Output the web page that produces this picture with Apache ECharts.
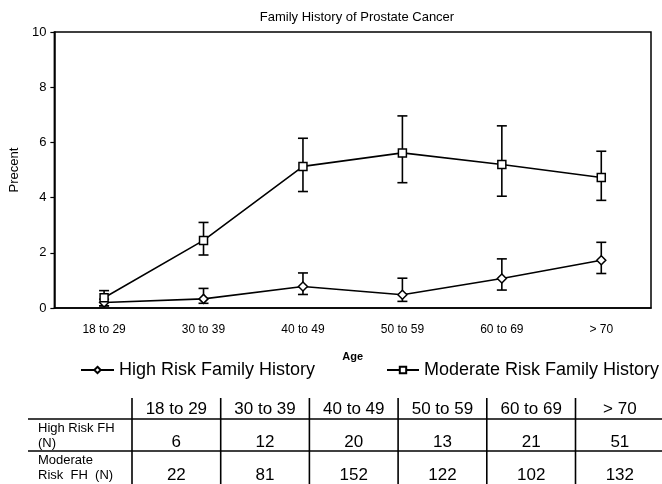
<!DOCTYPE html>
<html>
<head>
<meta charset="utf-8">
<script src="https://cdn.jsdelivr.net/npm/echarts@6/dist/echarts.min.js"></script>
<style>
html, body { margin: 0; padding: 0; background: #fff; }
#chart { width: 662px; height: 484px; }
</style>
</head>
<body>
<div id="chart"></div>
<script>
var categories = ['18 to 29', '30 to 39', '40 to 49', '50 to 59', '60 to 69', '> 70'];
var yTicks = [0, 2, 4, 6, 8, 10];

// percent values with error bar ends
var highRisk = [0.2, 0.33, 0.78, 0.48, 1.07, 1.73];
var highLow = [0.08, 0.17, 0.49, 0.24, 0.65, 1.25];
var highHigh = [0.32, 0.71, 1.27, 1.08, 1.78, 2.38];
var moderate = [0.37, 2.45, 5.13, 5.62, 5.2, 4.73];
var modLow = [0.08, 1.92, 4.22, 4.54, 4.05, 3.9];
var modHigh = [0.63, 3.1, 6.15, 6.96, 6.6, 5.68];

// counts table under the chart
var rowLabels = ['High Risk FH\n(N)', 'Moderate\nRisk  FH  (N)'];
var highN = [6, 12, 20, 13, 21, 51];
var modN = [22, 81, 152, 122, 102, 132];

var font = "'Liberation Sans', Arial, sans-serif";

function errData(lo, hi) {
	var out = [];
	for (var i = 0; i < lo.length; i++) {
		out.push([i, lo[i], hi[i]]);
	}
	return out;
}

function renderErr(params, api) {
	var top = api.coord([api.value(0), api.value(2)]);
	var bot = api.coord([api.value(0), api.value(1)]);
	var cap = 5;
	var st = { stroke: '#000', lineWidth: 1.6 };
	return {
		type: 'group',
		children: [
			{ type: 'line', shape: { x1: top[0], y1: top[1], x2: bot[0], y2: bot[1] }, style: st },
			{ type: 'line', shape: { x1: top[0] - cap, y1: top[1], x2: top[0] + cap, y2: top[1] }, style: st },
			{ type: 'line', shape: { x1: bot[0] - cap, y1: bot[1], x2: bot[0] + cap, y2: bot[1] }, style: st }
		]
	};
}

// table drawn with graphic elements
function buildTable() {
	var els = [];
	var x0 = 132, colW = 88.7, lineL = 28;
	var yHead = 409, yL1 = 419, yR1 = 442, yL2 = 451, yR2 = 475;
	var lineSt = { stroke: '#000', lineWidth: 1.6 };
	els.push({ type: 'line', shape: { x1: lineL, y1: yL1, x2: 662, y2: yL1 }, style: lineSt });
	els.push({ type: 'line', shape: { x1: lineL, y1: yL2, x2: 662, y2: yL2 }, style: lineSt });
	for (var i = 0; i < categories.length; i++) {
		var xl = x0 + i * colW;
		els.push({ type: 'line', shape: { x1: xl, y1: 398, x2: xl, y2: 484 }, style: lineSt });
		var cx = xl + colW / 2;
		els.push({ type: 'text', x: cx, y: yHead, style: { text: categories[i], fill: '#000', font: '17px ' + font, align: 'center', verticalAlign: 'middle' } });
		els.push({ type: 'text', x: cx, y: yR1, style: { text: String(highN[i]), fill: '#000', font: '17px ' + font, align: 'center', verticalAlign: 'middle' } });
		els.push({ type: 'text', x: cx, y: yR2, style: { text: String(modN[i]), fill: '#000', font: '17px ' + font, align: 'center', verticalAlign: 'middle' } });
	}
	els.push({ type: 'text', x: 38, y: (yL1 + yL2) / 2 + 1, style: { text: rowLabels[0], fill: '#000', font: '13px ' + font, lineHeight: 15, align: 'left', verticalAlign: 'middle' } });
	els.push({ type: 'text', x: 38, y: yL2 + 17, style: { text: rowLabels[1], fill: '#000', font: '13px ' + font, lineHeight: 15, align: 'left', verticalAlign: 'middle' } });
	return els;
}

var option = {
	backgroundColor: '#fff',
	animation: false,
	textStyle: { fontFamily: font },
	title: {
		text: 'Family History of Prostate Cancer',
		left: 352,
		textAlign: 'center',
		top: 6,
		textStyle: { fontSize: 13, fontWeight: 'normal', color: '#000' }
	},
	legend: [{
		data: ['High Risk Family History'],
		left: 80,
		top: 361,
		padding: 0,
		itemWidth: 33,
		itemHeight: 8,
		textStyle: { fontSize: 18, color: '#000' }
	}, {
		data: ['Moderate Risk Family History'],
		left: 386,
		top: 361,
		padding: 0,
		itemWidth: 32,
		itemHeight: 8,
		textStyle: { fontSize: 18, color: '#000' }
	}],
	grid: {
		left: 46,
		right: 11,
		top: 32,
		bottom: 176,
		show: true,
		borderColor: '#000',
		borderWidth: 1.5
	},
	xAxis: {
		type: 'category',
		data: categories,
		boundaryGap: true,
		name: 'Age',
		nameLocation: 'middle',
		nameGap: 43,
		nameTextStyle: { fontSize: 11, fontWeight: 'bold', color: '#000' },
		axisLine: { lineStyle: { color: '#000', width: 1.5 } },
		axisTick: { show: false },
		axisLabel: { fontSize: 12, color: '#000', margin: 16 },
		splitLine: { show: false }
	},
	yAxis: {
		type: 'value',
		min: yTicks[0],
		max: yTicks[yTicks.length - 1],
		interval: 2,
		name: 'Precent',
		nameLocation: 'middle',
		nameGap: 31,
		nameTextStyle: { fontSize: 13, color: '#000' },
		axisLine: { show: true, lineStyle: { color: '#000', width: 1.5 } },
		axisTick: { show: true, length: 4, lineStyle: { color: '#000', width: 1.2 } },
		axisLabel: { fontSize: 13, color: '#000', margin: 8 },
		splitLine: { show: false }
	},
	series: [{
		name: 'High Risk Family History',
		type: 'line',
		data: highRisk,
		symbol: 'diamond',
		symbolSize: 9,
		z: 5,
		lineStyle: { color: '#000', width: 1.6 },
		itemStyle: { color: '#fff', borderColor: '#000', borderWidth: 1.5 }
	}, {
		name: 'Moderate Risk Family History',
		type: 'line',
		data: moderate,
		symbol: 'rect',
		symbolSize: 8,
		z: 5,
		lineStyle: { color: '#000', width: 1.6 },
		itemStyle: { color: '#fff', borderColor: '#000', borderWidth: 1.5 }
	}, {
		name: 'highErr',
		type: 'custom',
		data: errData(highLow, highHigh),
		encode: { x: 0, y: [1, 2] },
		renderItem: renderErr,
		z: 3
	}, {
		name: 'modErr',
		type: 'custom',
		data: errData(modLow, modHigh),
		encode: { x: 0, y: [1, 2] },
		renderItem: renderErr,
		z: 3
	}],
	graphic: buildTable()
};

var chart = echarts.init(document.getElementById('chart'));
chart.setOption(option);
</script>
</body>
</html>
